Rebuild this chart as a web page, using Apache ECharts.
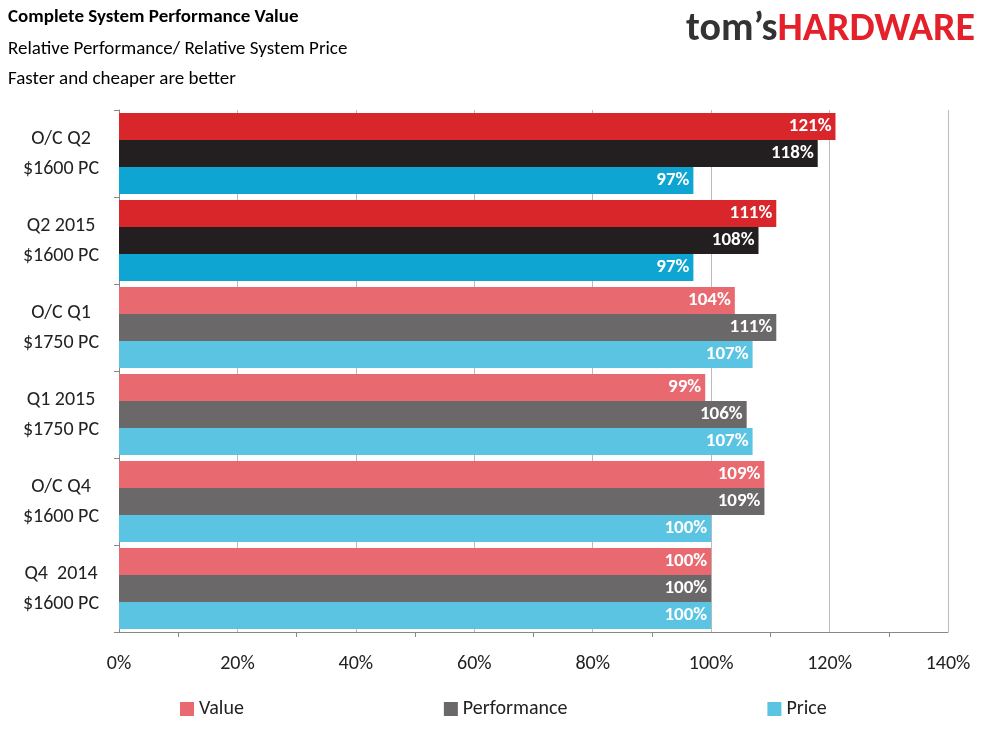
<!DOCTYPE html>
<html><head><meta charset="utf-8">
<script src="https://cdn.jsdelivr.net/npm/echarts@6/dist/echarts.min.js"></script>
<style>html,body{margin:0;background:#fff}#c{width:989px;height:742px}</style>
</head><body><div id="c"></div>
<script>
var categories = ['O/C Q2\n$1600 PC','Q2 2015\n$1600 PC','O/C Q1\n$1750 PC','Q1 2015\n$1750 PC','O/C Q4\n$1600 PC','Q4  2014\n$1600 PC'];
var valueData = [121,111,104,99,109,100];
var perfData = [118,108,111,106,109,100];
var priceData = [97,97,107,107,100,100];
var xTicks = [0,20,40,60,80,100,120,140];

var darkCols = ['#d9262b','#231f20','#0ea5d3'];
var lightCols = ['#e8696f','#6b6869','#5bc4e2'];
var font = 'Calibri, "Liberation Sans", "Open Sans", sans-serif';

function mk(name, arr, i){
  return {
    name: name, type: 'bar', barGap: 0, barCategoryGap: '7%',
    itemStyle: {color: lightCols[i]},
    data: arr.map(function(v, k){
      return {value: v, itemStyle: {color: k < 2 ? darkCols[i] : lightCols[i]}};
    }),
    label: {show: true, position: 'insideRight', formatter: '{c}%', color: '#fff',
      fontWeight: 'bold', fontSize: 19, fontFamily: font, distance: 4}
  };
}

var chart = echarts.init(document.getElementById('c'));
chart.setOption({
  animation: false,
  textStyle: {fontFamily: font},
  graphic: [
    {type: 'text', left: 8, top: 8, style: {text: 'Complete System Performance Value', font: 'bold 19px ' + font, fill: '#000'}},
    {type: 'text', left: 8, top: 40, style: {text: 'Relative Performance/ Relative System Price', font: '19px ' + font, fill: '#000'}},
    {type: 'text', left: 8, top: 70, style: {text: 'Faster and cheaper are better', font: '19px ' + font, fill: '#000'}},
    {type: 'text', right: 14, top: 10, style: {
      text: '{a|tom\u2019s}{b|HARDWARE}',
      rich: {a: {font: 'bold 40px ' + font, fill: '#333'}, b: {font: 'bold 40px ' + font, fill: '#e4202a'}}
    }}
  ],
  grid: {left: 119, right: 41, top: 110, bottom: 110},
  legend: {bottom: 18, left: 175, itemWidth: 14, itemHeight: 14, itemGap: 200,
    icon: 'rect', textStyle: {fontSize: 20, color: '#222', fontFamily: font},
    data: [{name: 'Value', itemStyle: {color: lightCols[0]}},
           {name: 'Performance', itemStyle: {color: lightCols[1]}},
           {name: 'Price', itemStyle: {color: lightCols[2]}}]},
  xAxis: {type: 'value', min: xTicks[0], max: xTicks[xTicks.length - 1], interval: 20,
    axisLabel: {formatter: '{value}%', fontSize: 20, color: '#222', margin: 22},
    axisLine: {show: true, lineStyle: {color: '#888'}},
    axisTick: {show: false},
    minorTick: {show: true, splitNumber: 2, length: 5, lineStyle: {color: '#888'}},
    splitLine: {lineStyle: {color: '#bbb'}}},
  yAxis: {type: 'category', inverse: true, data: categories,
    axisLabel: {fontSize: 20, color: '#222', align: 'center', margin: 58, lineHeight: 30},
    axisLine: {lineStyle: {color: '#888'}},
    axisTick: {show: true, length: 5, lineStyle: {color: '#888'}}},
  series: [mk('Value', valueData, 0), mk('Performance', perfData, 1), mk('Price', priceData, 2)]
});
</script></body></html>
